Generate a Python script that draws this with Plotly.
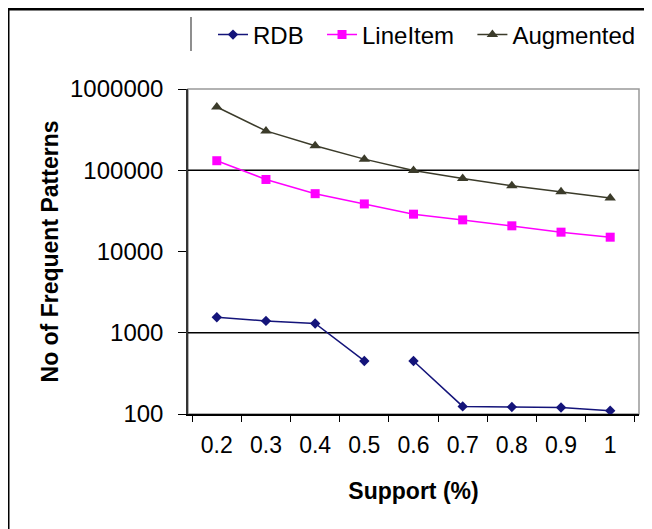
import plotly.graph_objects as go

categories = ["0.2", "0.3", "0.4", "0.5", "0.6", "0.7", "0.8", "0.9", "1"]
rdb_values = [1550, 1400, 1300, 450, 450, 124, 122, 120, 110]
lineitem_values = [131000, 77000, 51500, 38500, 28800, 24500, 20700, 17300, 15000]
augmented_values = [600000, 305000, 200000, 137000, 99000, 79000, 64500, 54500, 45600]
y_tick_values = [100, 1000, 10000, 100000, 1000000]
y_tick_labels = ["100", "1000", "10000", "100000", "1000000"]
grid_values = [1000, 100000]
rdb_break = 4  # RDB line is interrupted between 0.5 and 0.6

# page body has an 8px margin, so figure coords = screen coords - 8
OFF = 8
W, H = 652 - OFF, 529 - OFF
L = 188 - OFF
T = 89 - OFF
R = W - (639 - OFF)
B = H - (414 - OFF)
pw, ph = W - L - R, H - T - B

def px(x):  # screen x -> paper
    return (x - OFF - L) / pw

def py(y):  # screen y -> paper
    return (H - B - (y - OFF)) / ph

NB = "\u00a0"  # spacing after legend labels
FONT = "Liberation Sans, Arial, sans-serif"
RDB_C = "#14147a"
LI_C = "#ff00ff"
AUG_C = "#3b3b2a"

fig = go.Figure()
fig.add_trace(go.Scatter(x=categories[:rdb_break], y=rdb_values[:rdb_break], name="RDB" + NB * 2,
                         mode="lines+markers", legendgroup="rdb",
                         line=dict(color=RDB_C, width=1.5),
                         marker=dict(symbol="diamond", size=8, color=RDB_C)))
fig.add_trace(go.Scatter(x=categories[rdb_break:], y=rdb_values[rdb_break:], name="RDB",
                         mode="lines+markers", legendgroup="rdb", showlegend=False,
                         line=dict(color=RDB_C, width=1.5),
                         marker=dict(symbol="diamond", size=8, color=RDB_C)))
fig.add_trace(go.Scatter(x=categories, y=lineitem_values, name="LineItem" + NB * 2,
                         mode="lines+markers",
                         line=dict(color=LI_C, width=1.5),
                         marker=dict(symbol="square", size=9, color=LI_C)))
fig.add_trace(go.Scatter(x=categories, y=augmented_values, name="Augmented",
                         mode="lines+markers",
                         line=dict(color=AUG_C, width=1.5),
                         marker=dict(symbol="triangle-up", size=10, color=AUG_C)))

shapes = []
shapes.append(dict(type="rect", xref="paper", yref="paper", x0=0, x1=1, y0=0, y1=1,
                   line=dict(color="#999999", width=1.5), layer="below"))
for g in grid_values:
    shapes.append(dict(type="line", xref="paper", yref="y", x0=0, x1=1, y0=g, y1=g,
                       line=dict(color="black", width=1.5), layer="below"))
# figure border (top & left)
shapes.append(dict(type="line", xref="paper", yref="paper", x0=px(6), x1=px(652), y0=py(9), y1=py(9),
                   line=dict(color="black", width=3)))
shapes.append(dict(type="line", xref="paper", yref="paper", x0=px(8), x1=px(8), y0=py(8), y1=py(529),
                   line=dict(color="black", width=3)))
# legend separator
shapes.append(dict(type="line", xref="paper", yref="paper", x0=px(191), x1=px(191), y0=py(17), y1=py(51),
                   line=dict(color="#444444", width=1.2)))

fig.update_layout(
    width=W, height=H,
    margin=dict(l=L, r=R, t=T, b=B, autoexpand=False),
    paper_bgcolor="white", plot_bgcolor="white",
    font=dict(family=FONT, color="black", size=24),
    shapes=shapes,
    legend=dict(orientation="h", x=px(213), xanchor="left", y=py(35), yanchor="middle",
                font=dict(size=24, family=FONT), itemwidth=30, tracegroupgap=0,
                bgcolor="rgba(0,0,0,0)"),
    xaxis=dict(type="category", categoryorder="array", categoryarray=categories,
               tickson="boundaries", ticks="outside", ticklen=6, tickcolor="black",
               showline=True, linecolor="black", linewidth=1.5, showgrid=False,
               tickfont=dict(size=23), ticklabelstandoff=10, automargin=False,
               title=dict(text="<b>Support (%)</b>", font=dict(size=23), standoff=26)),
    yaxis=dict(type="log", range=[2, 6], tickvals=y_tick_values, ticktext=y_tick_labels,
               ticks="outside", ticklen=8, tickcolor="black", automargin=False,
               showline=True, linecolor="#333333", linewidth=1.5, showgrid=False,
               tickfont=dict(size=24), ticklabelstandoff=10,
               title=dict(text="<b>No of Frequent Patterns</b>", font=dict(size=23), standoff=5)),
)

fig.write_html("out.html")
